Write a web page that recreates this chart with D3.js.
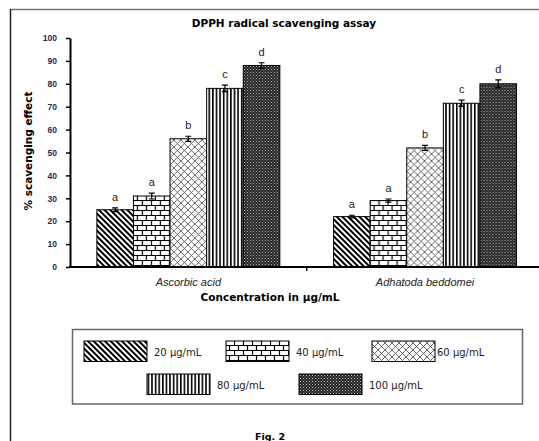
<html>
<head>
<script src="https://cdnjs.cloudflare.com/ajax/libs/d3/7.8.5/d3.min.js"></script>
<style>
  body { margin:0; background:#fff; }
</style>
</head>
<body>
<svg id="chart" width=539 height=441></svg>
<script>
// values
var categories = ["Ascorbic acid", "Adhatoda beddomei"];
var concentrations = ["20 µg/mL", "40 µg/mL", "60 µg/mL", "80 µg/mL", "100 µg/mL"];
var ascorbic = [25, 31, 56, 78, 88];
var adhatoda = [22, 29, 52, 71.5, 80];
var ascorbicErr = [0.8, 1.3, 1.1, 1.4, 1.2];
var adhatodaErr = [0.6, 0.7, 1.1, 1.4, 1.7];
var letters = ["a", "a", "b", "c", "d"];
var yTicks = [0, 10, 20, 30, 40, 50, 60, 70, 80, 90, 100];

var values = [ascorbic, adhatoda];
var errors = [ascorbicErr, adhatodaErr];

var svg = d3.select("#chart");
var defs = svg.append("defs");

// hatch patterns, one per concentration
var p1 = defs.append("pattern").attr("id", "pat0")
  .attr("patternUnits", "userSpaceOnUse").attr("width", 4).attr("height", 4)
  .attr("patternTransform", "rotate(-45)");
p1.append("rect").attr("width", 4).attr("height", 4).attr("fill", "#fff");
p1.append("rect").attr("width", 2).attr("height", 4).attr("fill", "#000");

var p2 = defs.append("pattern").attr("id", "pat1")
  .attr("patternUnits", "userSpaceOnUse").attr("width", 18).attr("height", 10);
p2.append("rect").attr("width", 18).attr("height", 10).attr("fill", "#fff");
p2.append("path")
  .attr("d", "M0,0.5H18M0,5.5H18M0.5,0V5.5M9.5,0V5.5M4.5,5.5V10M13.5,5.5V10")
  .attr("stroke", "#000").attr("stroke-width", 1.2).attr("fill", "none");

var p3 = defs.append("pattern").attr("id", "pat2")
  .attr("patternUnits", "userSpaceOnUse").attr("width", 7).attr("height", 7);
p3.append("rect").attr("width", 7).attr("height", 7).attr("fill", "#fff");
p3.append("path")
  .attr("d", "M0,0L7,7M7,0L0,7")
  .attr("stroke", "#444").attr("stroke-width", 0.8).attr("fill", "none");

var p4 = defs.append("pattern").attr("id", "pat3")
  .attr("patternUnits", "userSpaceOnUse").attr("width", 3.6).attr("height", 4);
p4.append("rect").attr("width", 3.6).attr("height", 4).attr("fill", "#fff");
p4.append("rect").attr("width", 1.6).attr("height", 4).attr("fill", "#000");

var p5 = defs.append("pattern").attr("id", "pat4")
  .attr("patternUnits", "userSpaceOnUse").attr("width", 3).attr("height", 3);
p5.append("rect").attr("width", 3).attr("height", 3).attr("fill", "#222");
p5.append("rect").attr("width", 1).attr("height", 1).attr("fill", "#bbb");
p5.append("rect").attr("x", 1.5).attr("y", 1.5).attr("width", 1).attr("height", 1).attr("fill", "#999");

// outer frame
svg.append("line").attr("x1", 10).attr("x2", 539).attr("y1", 9.5).attr("y2", 9.5)
  .attr("stroke", "#777").attr("stroke-width", 1.5);
svg.append("line").attr("x1", 10.5).attr("x2", 10.5).attr("y1", 9).attr("y2", 441)
  .attr("stroke", "#222").attr("stroke-width", 1.5);

svg.append("text")
  .attr("x", 284).attr("y", 27)
  .attr("text-anchor", "middle")
  .attr("font-family", "DejaVu Sans").attr("font-weight", "bold").attr("font-size", 10.5)
  .text("DPPH radical scavenging assay");

var x0 = d3.scaleBand()
  .domain(categories)
  .range([70, 543.4])
  .paddingInner(0.227)
  .paddingOuter(0.1135);

var x1 = d3.scaleBand()
  .domain(concentrations)
  .range([0, x0.bandwidth()]);

var y = d3.scaleLinear()
  .domain([0, 100])
  .range([267, 38]);

// y axis
var yAxis = svg.append("g")
  .attr("transform", "translate(70,0)")
  .call(d3.axisLeft(y).tickValues(yTicks).tickSize(4).tickPadding(9).tickSizeOuter(0));
yAxis.select(".domain").attr("stroke", "#000").attr("stroke-width", 2);
yAxis.selectAll(".tick line").attr("stroke", "#000").attr("stroke-width", 1.5);
yAxis.selectAll(".tick text")
  .attr("fill", "#242c50")
  .attr("font-family", "Liberation Sans, Arial").attr("font-weight", "bold").attr("font-size", 8.5);

// bars
categories.forEach(function(cat, i) {
  var g = svg.append("g").attr("transform", "translate(" + x0(cat) + ",0)");
  concentrations.forEach(function(c, j) {
    var v = values[i][j];
    var e = errors[i][j];
    var cx = x1(c) + x1.bandwidth() / 2;
    g.append("rect")
      .attr("x", x1(c))
      .attr("y", y(v))
      .attr("width", x1.bandwidth())
      .attr("height", y(0) - y(v))
      .attr("fill", "url(#pat" + j + ")")
      .attr("stroke", "#000")
      .attr("stroke-width", 1);
    g.append("path")
      .attr("d", "M" + (cx - 3) + "," + y(v + e) + "H" + (cx + 3) +
                 "M" + cx + "," + y(v + e) + "V" + y(v - e) +
                 "M" + (cx - 3) + "," + y(v - e) + "H" + (cx + 3))
      .attr("stroke", "#000").attr("stroke-width", 1.2).attr("fill", "none");
    g.append("text")
      .attr("x", cx)
      .attr("y", y(v + e) - 7)
      .attr("text-anchor", "middle")
      .attr("font-family", "Liberation Sans, Arial").attr("font-size", 11)
      .attr("fill", "#222")
      .text(letters[j]);
  });
  svg.append("text")
    .attr("x", x0(cat) + x0.bandwidth() / 2)
    .attr("y", 286)
    .attr("text-anchor", "middle")
    .attr("font-family", "Liberation Sans, Arial").attr("font-style", "italic").attr("font-size", 11)
    .attr("fill", "#222")
    .text(cat);
});

// x axis
var xAxis = svg.append("g").attr("transform", "translate(0,267)");
xAxis.append("line").attr("x1", 69).attr("x2", 543).attr("y1", 0).attr("y2", 0)
  .attr("stroke", "#000").attr("stroke-width", 2);
xAxis.append("line")
  .attr("x1", x0(categories[1]) - x0.step() * x0.paddingInner() / 2)
  .attr("x2", x0(categories[1]) - x0.step() * x0.paddingInner() / 2)
  .attr("y1", 0).attr("y2", 4)
  .attr("stroke", "#000").attr("stroke-width", 1.5);

svg.append("text")
  .attr("transform", "translate(32,151) rotate(-90)")
  .attr("text-anchor", "middle")
  .attr("font-family", "DejaVu Sans").attr("font-weight", "bold").attr("font-size", 10.5)
  .text("% scavenging effect");

svg.append("text")
  .attr("x", 270).attr("y", 301)
  .attr("text-anchor", "middle")
  .attr("font-family", "DejaVu Sans").attr("font-weight", "bold").attr("font-size", 10.5)
  .text("Concentration in µg/mL");

// legend
svg.append("rect")
  .attr("x", 72.5).attr("y", 329.5).attr("width", 450).attr("height", 74.5)
  .attr("fill", "none").attr("stroke", "#666").attr("stroke-width", 1.5);

var legendPos = [[84, 341], [226, 341], [372, 341], [147, 374], [299, 374]];
concentrations.forEach(function(c, j) {
  svg.append("rect")
    .attr("x", legendPos[j][0]).attr("y", legendPos[j][1])
    .attr("width", 63).attr("height", 20.5)
    .attr("fill", "url(#pat" + j + ")")
    .attr("stroke", "#000").attr("stroke-width", 1);
  svg.append("text")
    .attr("x", legendPos[j][0] + (j == 2 ? 65 : 70)).attr("y", legendPos[j][1] + 14.5)
    .attr("font-family", "DejaVu Sans").attr("font-size", 10)
    .attr("fill", "#222")
    .text(c);
});

svg.append("text")
  .attr("x", 270).attr("y", 440)
  .attr("text-anchor", "middle")
  .attr("font-family", "DejaVu Sans").attr("font-weight", "bold").attr("font-size", 9.5)
  .text("Fig. 2");
</script>
</body>
</html>
